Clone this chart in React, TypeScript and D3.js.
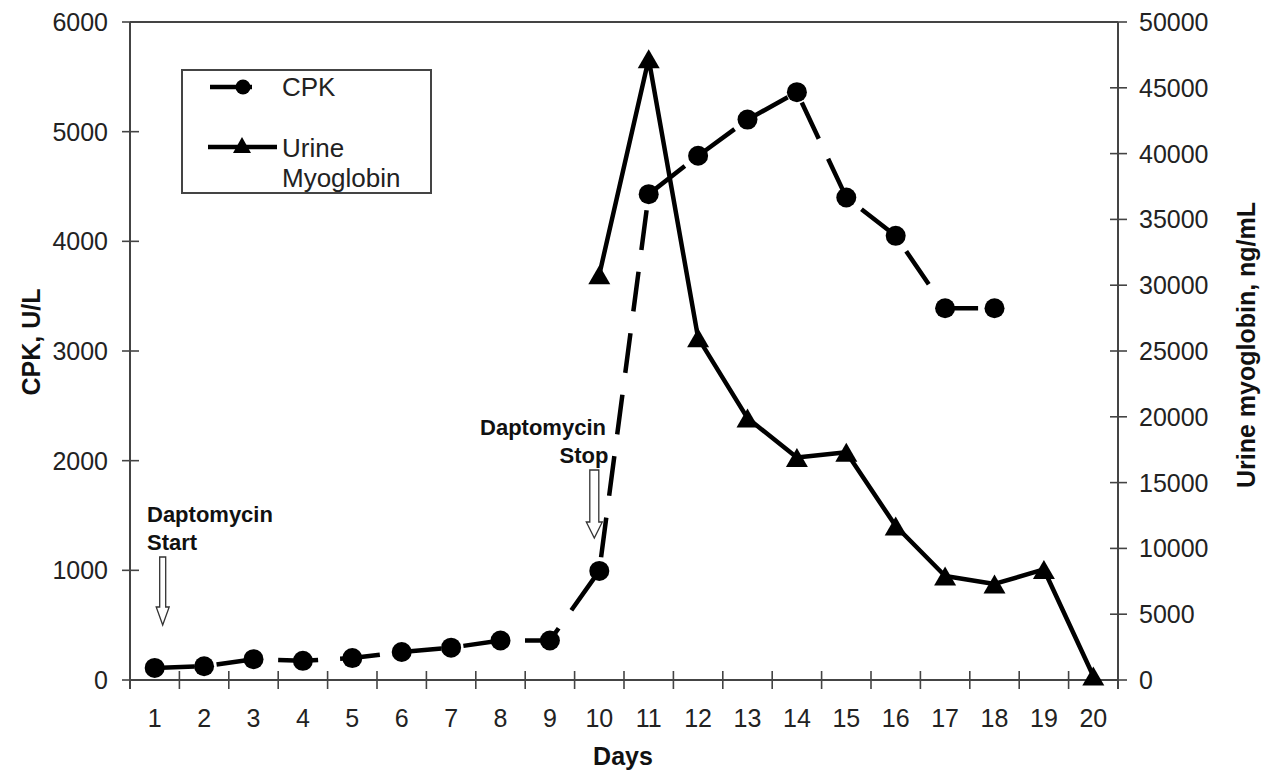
import React from "react";
import * as d3 from "d3";

const days = d3.range(1, 21).map(String);
const cpkDays = [1, 2, 3, 4, 5, 6, 7, 8, 9, 10, 11, 12, 13, 14, 15, 16, 17, 18];
const cpkValues = [110, 125, 190, 175, 200, 255, 295, 360, 360, 995, 4430, 4780, 5110, 5360, 4400, 4050, 3390, 3390];
const myoDays = [10, 11, 12, 13, 14, 15, 16, 17, 18, 19, 20];
const myoValues = [30800, 47200, 26000, 19900, 16900, 17300, 11700, 7900, 7300, 8400, 300];
const leftTicks = [0, 1000, 2000, 3000, 4000, 5000, 6000];
const rightTicks = [0, 5000, 10000, 15000, 20000, 25000, 30000, 35000, 40000, 45000, 50000];

const W = 1262;
const H = 774;
const L = 130, R = 1118, T = 22, B = 680;
const FONT = "'Liberation Sans', Arial, sans-serif";

function tri(cx: number, cy: number, w: number, h: number) {
  return `M${cx},${cy - h / 2}L${cx + w / 2},${cy + h / 2}L${cx - w / 2},${cy + h / 2}Z`;
}

function downArrow(cx: number, y0: number, y1: number, shaftW: number, headW: number, headH: number) {
  const hs = shaftW / 2, hh = headW / 2;
  const yh = y1 - headH;
  return `M${cx - hs},${y0}L${cx + hs},${y0}L${cx + hs},${yh}L${cx + hh},${yh}L${cx},${y1}L${cx - hh},${yh}L${cx - hs},${yh}Z`;
}

export default function App() {
  const x = d3.scaleBand<string>().domain(days).range([L, R]).padding(0);
  const cx = (d: number) => (x(String(d)) as number) + x.bandwidth() / 2;
  const yL = d3.scaleLinear().domain([0, 6000]).range([B, T]);
  const yR = d3.scaleLinear().domain([0, 50000]).range([B, T]);

  const cpkPts = cpkDays.map((d, i) => [cx(d), yL(cpkValues[i])] as [number, number]);
  const myoPts = myoDays.map((d, i) => [cx(d), yR(myoValues[i])] as [number, number]);
  const line = d3.line();

  const boundaries = d3.range(0, days.length + 1).map((i) => L + i * x.bandwidth());
  const axisColor = "#444";
  const textColor = "#222";

  return (
    <svg width={W} height={H} style={{ position: "absolute", left: 0, top: 0, background: "#fff" }} fontFamily={FONT}>
      <rect x={0} y={0} width={W} height={H} fill="#fff" />
      {/* frame */}
      <line x1={L} y1={T} x2={R} y2={T} stroke={axisColor} strokeWidth={2} />
      <line x1={L} y1={T} x2={L} y2={B + 9} stroke={axisColor} strokeWidth={2} />
      <line x1={R} y1={T} x2={R} y2={B + 9} stroke={axisColor} strokeWidth={2} />
      <line x1={L} y1={B} x2={R} y2={B} stroke={axisColor} strokeWidth={2} />

      {/* left ticks */}
      {leftTicks.map((t) => (
        <g key={"l" + t}>
          <line x1={L - 8} x2={L + 9} y1={yL(t)} y2={yL(t)} stroke={axisColor} strokeWidth={1.6} />
          <text x={108} y={yL(t)} dy="0.36em" textAnchor="end" fontSize={25} fill={textColor}>{t}</text>
        </g>
      ))}
      {/* right ticks */}
      {rightTicks.map((t) => (
        <g key={"r" + t}>
          <line x1={R - 8} x2={R + 9} y1={yR(t)} y2={yR(t)} stroke={axisColor} strokeWidth={1.6} />
          <text x={1139} y={yR(t)} dy="0.36em" textAnchor="start" fontSize={25} fill={textColor}>{t}</text>
        </g>
      ))}
      {/* x ticks */}
      {boundaries.map((b, i) => (
        <line key={"x" + i} x1={b} x2={b} y1={B - 9} y2={B + 9} stroke={axisColor} strokeWidth={1.6} />
      ))}
      {days.map((d) => (
        <text key={"d" + d} x={cx(+d)} y={727} textAnchor="middle" fontSize={25} fill={textColor}>{d}</text>
      ))}

      {/* axis titles */}
      <text x={623} y={765} textAnchor="middle" fontSize={25} fontWeight="bold" fill="#111">Days</text>
      <text transform={`translate(40,342) rotate(-90)`} textAnchor="middle" fontSize={25} fontWeight="bold" fill="#111">CPK, U/L</text>
      <text transform={`translate(1255,345) rotate(-90)`} textAnchor="middle" fontSize={25} fontWeight="bold" fill="#111">Urine myoglobin, ng/mL</text>

      {/* CPK series */}
      <path d={line(cpkPts) || ""} fill="none" stroke="#000" strokeWidth={4.5} strokeDasharray="40,22" />
      {cpkPts.map((p, i) => (
        <circle key={"c" + i} cx={p[0]} cy={p[1]} r={10} fill="#000" />
      ))}

      {/* Myoglobin series */}
      <path d={line(myoPts) || ""} fill="none" stroke="#000" strokeWidth={4.5} strokeLinejoin="round" />
      {myoPts.map((p, i) => (
        <path key={"t" + i} d={tri(p[0], p[1], 22, 19)} fill="#000" />
      ))}

      {/* annotations */}
      <text x={147} y={522} fontSize={22} fontWeight="bold" fill="#111">Daptomycin</text>
      <text x={147} y={550} fontSize={22} fontWeight="bold" fill="#111">Start</text>
      <path d={downArrow(cx(1) + 8, 557, 625, 6, 13, 18)} fill="#fff" stroke="#333" strokeWidth={1.3} />

      <text x={543} y={435} textAnchor="middle" fontSize={22} fontWeight="bold" fill="#111">Daptomycin</text>
      <text x={584} y={463} textAnchor="middle" fontSize={22} fontWeight="bold" fill="#111">Stop</text>
      <path d={downArrow(cx(10) - 5, 470, 538, 9, 16, 16)} fill="#fff" stroke="#333" strokeWidth={1.3} />

      {/* legend */}
      <rect x={182} y={70} width={249} height={123} fill="#fff" stroke={axisColor} strokeWidth={2} />
      <line x1={210} x2={252} y1={87} y2={87} stroke="#000" strokeWidth={4.5} />
      <circle cx={243} cy={87} r={7.5} fill="#000" />
      <text x={282} y={96} fontSize={26} fill={textColor}>CPK</text>
      <line x1={208} x2={277} y1={147} y2={147} stroke="#000" strokeWidth={4.5} />
      <path d={tri(242, 145, 18, 16)} fill="#000" />
      <text x={282} y={157} fontSize={26} fill={textColor}>Urine</text>
      <text x={282} y={187} fontSize={26} fill={textColor}>Myoglobin</text>
    </svg>
  );
}
